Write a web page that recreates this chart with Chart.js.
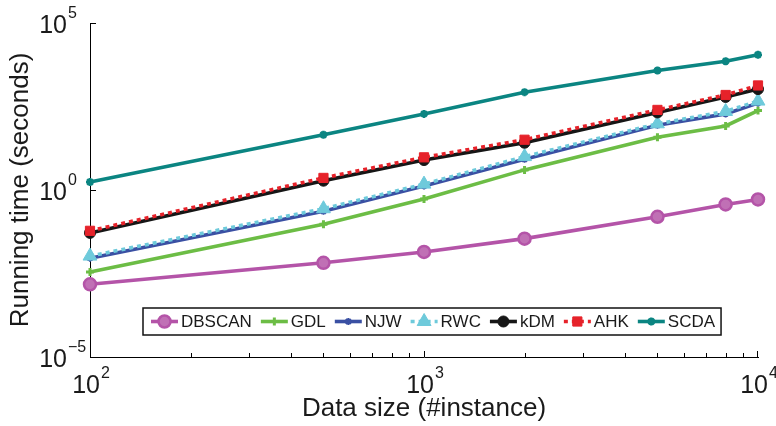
<!DOCTYPE html>
<html>
<head>
<meta charset="utf-8">
<script src="https://cdn.jsdelivr.net/npm/chart.js@4.4.1/dist/chart.umd.min.js"></script>
<style>
  html, body { margin: 0; padding: 0; background: #fff; }
  #wrap { width: 776px; height: 426px; }
</style>
</head>
<body>
<div id="wrap"><canvas id="runtimeChart" width="776" height="426"></canvas></div>
<script>
// data size (#instance) on the x axis
const sizes = [100, 500, 1000, 2000, 5000, 8000, 10000]

// running time in seconds per method
const dbscan = [0.0015, 0.0066, 0.014, 0.035, 0.158, 0.37, 0.52]
const gdl = [0.0035, 0.095, 0.54, 4.0, 38, 83, 240]
const njw = [0.0091, 0.23, 1.32, 8.3, 87, 190, 400]
const rwc = [0.0105, 0.275, 1.5, 10, 96, 225, 460]
const kdm = [0.052, 1.9, 7.9, 26, 210, 610, 1050]
const ahk = [0.06, 2.3, 9.5, 32, 250, 700, 1350]
const scda = [1.74, 45, 190, 850, 3800, 7200, 11200]

const xTickExps = [2, 3, 4]
const yTickExps = [-5, 0, 5]

const FONT = "'Liberation Sans', Arial, Helvetica, sans-serif"
Chart.defaults.font.family = FONT
Chart.defaults.color = '#1a1a1a'

const toPoints = (vals) => sizes.map((s, i) => ({ x: s, y: vals[i] }))

const makeSet = (label, vals, color, extra) => Object.assign({
    label,
    data: toPoints(vals),
    borderColor: color,
    backgroundColor: color,
    pointBorderColor: color,
    pointBackgroundColor: color,
    borderWidth: 3.6,
    tension: 0,
    clip: false,
    pointBorderWidth: 1,
    pointRadius: 4,
    pointHoverRadius: 4
}, extra)

// later methods sit on top, like the plotting order
const datasets = [
    makeSet('DBSCAN', dbscan, '#b454a8', { pointStyle: 'circle', pointRadius: 6, pointBackgroundColor: '#c070b5', pointBorderWidth: 2.5, order: 7 }),
    makeSet('GDL', gdl, '#6cbd45', { pointStyle: 'cross', pointRadius: 4, pointBorderWidth: 3, order: 6 }),
    makeSet('NJW', njw, '#3a50a3', { pointStyle: 'star', pointRadius: 3.5, pointBorderWidth: 2, order: 5 }),
    makeSet('RWC', rwc, '#6ecadb', { pointStyle: 'triangle', pointRadius: 8, borderDash: [4, 4], order: 4 }),
    makeSet('kDM', kdm, '#161616', { pointStyle: 'circle', pointRadius: 5.5, order: 3 }),
    makeSet('AHK', ahk, '#e6222a', { pointStyle: 'rect', pointRadius: 6.5, borderDash: [4, 4], order: 2 }),
    makeSet('SCDA', scda, '#0b8582', { pointStyle: 'star', pointRadius: 4, pointBorderWidth: 2.5, order: 1 })
]

// "10" with a raised exponent
function drawPower(ctx, exp, x, baseline, align) {
    const base = '10'
    const sup = exp < 0 ? '\u2212' + Math.abs(exp) : String(exp)
    ctx.font = '25px ' + FONT
    const wBase = ctx.measureText(base).width
    ctx.font = '16px ' + FONT
    const wSup = ctx.measureText(sup).width
    let left = x
    if (align === 'center') left = x - (wBase + 1 + wSup) / 2
    if (align === 'rightBase') left = x - wBase
    ctx.textAlign = 'left'
    ctx.textBaseline = 'alphabetic'
    ctx.font = '25px ' + FONT
    ctx.fillText(base, left, baseline)
    ctx.font = '16px ' + FONT
    ctx.fillText(sup, left + wBase + 1, baseline - 15)
}

// inward tick marks and power-of-ten labels
const axisDecor = {
    id: 'axisDecor',
    afterDraw(chart) {
        const { ctx, chartArea } = chart
        const xs = chart.scales.x
        const ys = chart.scales.y
        ctx.save()
        ctx.strokeStyle = '#000'
        ctx.lineWidth = 1
        ctx.beginPath()
        for (let e = xTickExps[0]; e < xTickExps[xTickExps.length - 1]; e++) {
            for (let m = 1; m <= 9; m++) {
                const px = Math.round(xs.getPixelForValue(m * Math.pow(10, e))) + 0.5
                const len = m === 1 ? 6 : 4
                ctx.moveTo(px, chartArea.bottom)
                ctx.lineTo(px, chartArea.bottom - len)
            }
        }
        const lastX = Math.round(xs.getPixelForValue(Math.pow(10, xTickExps[xTickExps.length - 1]))) - 0.5
        ctx.moveTo(lastX, chartArea.bottom)
        ctx.lineTo(lastX, chartArea.bottom - 6)
        yTickExps.forEach(e => {
            const py = Math.round(ys.getPixelForValue(Math.pow(10, e))) + 0.5
            ctx.moveTo(chartArea.left, py)
            ctx.lineTo(chartArea.left + 6, py)
        })
        ctx.stroke()

        ctx.fillStyle = '#1a1a1a'
        xTickExps.forEach(e => {
            const px = xs.getPixelForValue(Math.pow(10, e))
            drawPower(ctx, e, px + 1, chartArea.bottom + 36, 'center')
        })
        yTickExps.forEach(e => {
            const py = ys.getPixelForValue(Math.pow(10, e))
            drawPower(ctx, e, chartArea.left - 23, py + 10, 'rightBase')
        })
        ctx.restore()
    }
}

// boxed legend in one row near the bottom of the plot
const rowLegend = {
    id: 'rowLegend',
    afterDraw(chart) {
        const { ctx, chartArea } = chart
        const left = chartArea.left + 53
        const midY = chartArea.bottom - 35.5
        const boxH = 27
        const sample = 27
        ctx.save()
        ctx.font = '17px ' + FONT
        let x = left + 8
        const items = chart.data.datasets.map(ds => {
            const w = ctx.measureText(ds.label).width
            const item = { ds, x, w }
            x += sample + 3 + w + 9
            return item
        })
        const right = x - 9 + 6
        ctx.fillStyle = '#fff'
        ctx.fillRect(left, midY - boxH / 2, right - left, boxH)
        ctx.strokeStyle = '#111'
        ctx.lineWidth = 1.5
        ctx.strokeRect(left, midY - boxH / 2, right - left, boxH)

        items.forEach(({ ds, x, w }) => {
            ctx.save()
            ctx.strokeStyle = ds.borderColor
            ctx.lineWidth = ds.borderWidth
            ctx.setLineDash(ds.borderDash || [])
            ctx.beginPath()
            ctx.moveTo(x, midY)
            ctx.lineTo(x + sample, midY)
            ctx.stroke()
            ctx.setLineDash([])
            ctx.fillStyle = ds.pointBackgroundColor
            ctx.strokeStyle = ds.pointBorderColor
            ctx.lineWidth = ds.pointBorderWidth
            Chart.helpers.drawPoint(ctx, {
                pointStyle: ds.pointStyle,
                rotation: 0,
                radius: ds.pointRadius,
                borderWidth: ds.pointBorderWidth
            }, x + sample / 2, midY)
            ctx.restore()
            ctx.fillStyle = '#1a1a1a'
            ctx.font = '17px ' + FONT
            ctx.textAlign = 'left'
            ctx.textBaseline = 'middle'
            ctx.fillText(ds.label, x + sample + 3, midY + 1)
        })
        ctx.restore()
    }
}

const config = {
    type: 'line',
    data: { datasets },
    plugins: [axisDecor, rowLegend],
    options: {
        responsive: false,
        animation: false,
        events: [],
        layout: { padding: { top: 23, right: 18, left: 0, bottom: 0 } },
        plugins: {
            legend: { display: false },
            tooltip: { enabled: false }
        },
        scales: {
            x: {
                type: 'logarithmic',
                min: 100,
                max: 10000,
                grid: { display: false },
                border: { display: true, color: '#000', width: 1 },
                ticks: { display: false },
                title: {
                    display: true,
                    text: 'Data size (#instance)',
                    font: { size: 26 },
                    color: '#1a1a1a',
                    padding: { top: 0, bottom: 2 }
                },
                afterFit: (scale) => { scale.height = 69 }
            },
            y: {
                type: 'logarithmic',
                min: 1e-5,
                max: 1e5,
                grid: { display: false },
                border: { display: true, color: '#000', width: 1 },
                ticks: { display: false },
                title: {
                    display: true,
                    text: 'Running time (seconds)',
                    font: { size: 26 },
                    color: '#1a1a1a',
                    padding: { top: 5, bottom: 0 }
                },
                afterFit: (scale) => { scale.width = 90 }
            }
        }
    }
}

const ctx = document.querySelector('#runtimeChart').getContext('2d')
const runtimeChart = new Chart(ctx, config)
</script>
</body>
</html>
